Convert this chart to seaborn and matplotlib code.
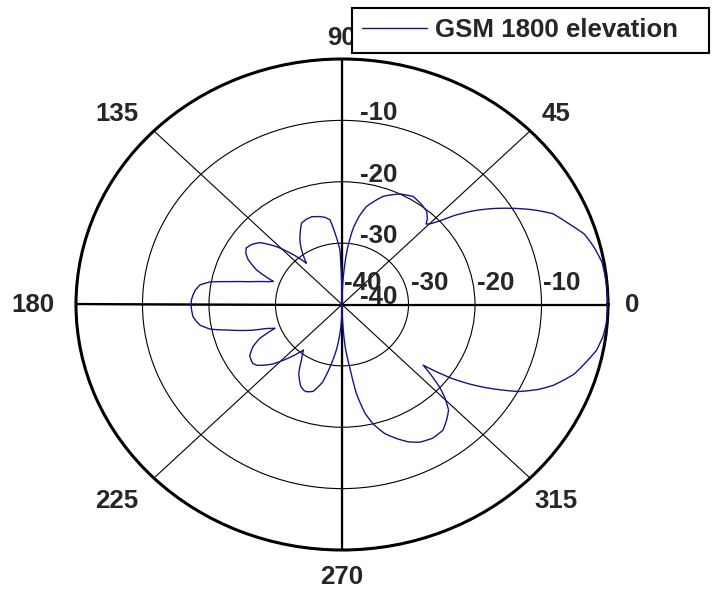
import numpy as np
import seaborn as sns
import matplotlib
import matplotlib.pyplot as plt

# elevation pattern (angle in degrees, gain in dB)
angles_deg = [0, 5, 10, 14, 17.5, 21, 25, 28, 31.5, 35, 38, 40.5, 42.6, 44.5,
              46, 47.5, 50, 53.5, 58.7, 64.2, 70.6, 77, 80, 82.5, 85, 87.5,
              90, 92, 95.2, 97.4, 100, 103, 107.7, 111, 114.6, 118.5, 121.5,
              124.3, 128.5, 132, 136.2, 140.6, 144, 147.4, 150, 152.6, 156.4,
              160, 161, 163, 165, 167.5, 169.5, 171.5, 174, 176, 178, 180, 182,
              185, 187, 189, 191.5, 193.5, 197, 199, 201, 204, 207, 211, 213.7,
              215.6, 217.7, 220, 223, 228, 232, 236, 240, 245, 247.5, 249, 251.4,
              253, 257, 260, 264, 267, 270, 272, 274, 276.5, 278.5, 281, 283.5,
              287, 290.5, 294, 297.5, 302, 306.5, 310, 313, 315.5, 317.5, 319.5,
              321, 322.5, 324, 326, 328, 332, 335, 337.5, 342, 346, 349, 352.5,
              356, 360]
gain_db = [0.0, -0.1, -0.3, -1.0, -1.8, -3.4, -5.0, -7.2, -10.0, -12.8, -15.3,
           -17.6, -19.8, -21.2, -21.8, -21.0, -20.2, -19.8, -19.4, -20.0, -21.3,
           -23.6, -25.5, -27.7, -31.0, -35.5, -40.0, -31.1, -28.3, -26.1, -25.6,
           -25.3, -25.0, -25.1, -25.4, -26.8, -27.9, -29.2, -31.4, -29.1, -26.4,
           -24.1, -23.3, -22.9, -23.3, -24.1, -26.0, -29.0, -28.6, -27.2, -25.7,
           -22.8, -19.8, -18.4, -17.8, -17.55, -17.35, -17.3, -17.35, -17.5,
           -17.9, -18.4, -19.8, -22.2, -25.6, -28.0, -29.2, -26.5, -25.0, -23.8,
           -23.6, -23.5, -23.8, -24.6, -25.8, -28.5, -30.6, -29.1, -27.0, -25.3,
           -24.9, -24.8, -25.0, -25.2, -27.0, -29.7, -33.0, -36.0, -40.0, -37.0,
           -33.0, -29.7, -25.3, -22.0, -20.0, -18.0, -16.7, -15.5, -14.7, -14.3,
           -14.5, -15.5, -16.5, -18.3, -20.1, -22.5, -24.3, -21.8, -19.4, -16.8,
           -14.4, -9.8, -7.3, -5.6, -3.3, -2.0, -1.0, -0.4, -0.1, 0.0]

ring_values = [-30, -20, -10]
radial_labels = [-40, -30, -20, -10]
angle_labels = [0, 45, 90, 135, 180, 225, 270, 315]
# label offsets in pixels from the outer ring
angle_offsets = {0: (24, -1), 45: (26, 17), 90: (0, 21), 135: (-37, 17),
                 180: (-43, -1), 225: (-37, -23), 270: (0, -27), 315: (26, -23)}
label_size = 18.6

sns.set_style("white")
plt.rcParams["font.family"] = ["Liberation Sans", "DejaVu Sans"]
plt.rcParams["font.weight"] = "bold"

fig = plt.figure(figsize=(7.17, 5.96), dpi=100)
ax = fig.add_axes([76 / 717, 46 / 596, 532 / 717, 491 / 596], projection="polar")
ax.set_aspect("auto")

theta = np.deg2rad(angles_deg)
sns.lineplot(x=theta, y=gain_db, ax=ax, sort=False, color="#14148c",
             linewidth=1.0, label="GSM 1800 elevation", zorder=4)
# follow the polar scale between the read points
ax.get_lines()[0].get_path()._interpolation_steps = 20

ax.set_ylim(-40, 0)
ax.set_yticks(ring_values)
ax.set_yticklabels([])
ax.set_xticks(np.deg2rad(angle_labels))
ax.set_xticklabels([])
ax.set_xticks(np.deg2rad(np.arange(0, 360, 5)), minor=True)
ax.tick_params(axis="x", which="both", direction="in", length=5, width=0.8,
               colors="black")
ax.grid(True, which="major", color="black", linewidth=0.8)
ax.spines["polar"].set_linewidth(2.2)
ax.spines["polar"].set_color("black")

# thicker main axes
for a in [0, 90, 180, 270]:
    ax.axvline(np.deg2rad(a), color="black", linewidth=1.6, zorder=3)

# angle labels
for a in angle_labels:
    ax.annotate(str(a), xy=(np.deg2rad(a), 0), xycoords="data",
                xytext=angle_offsets[a], textcoords="offset pixels",
                ha="center", va="center", fontsize=label_size,
                fontweight="bold", annotation_clip=False)

# radial labels along 90 and along 0
for r in radial_labels:
    ax.annotate(str(r), xy=(np.pi / 2, r), xytext=(18, 7),
                textcoords="offset pixels", ha="left", va="center",
                fontsize=label_size, fontweight="bold")
    ax.annotate(str(r), xy=(0, r), xytext=(2, 22),
                textcoords="offset pixels", ha="left", va="center",
                fontsize=label_size, fontweight="bold")

leg = ax.legend(loc="upper left", mode="expand", borderaxespad=0,
                bbox_to_anchor=(352 / 717, 542 / 596, 357 / 717, 46 / 596),
                bbox_transform=fig.transFigure, fancybox=False, framealpha=1,
                edgecolor="black", handlelength=2.5, handletextpad=0.3,
                borderpad=0.4, prop={"size": label_size, "weight": "bold"})
leg.get_frame().set_linewidth(1.5)
leg.set_zorder(10)

plt.savefig("out.png", dpi=100)
